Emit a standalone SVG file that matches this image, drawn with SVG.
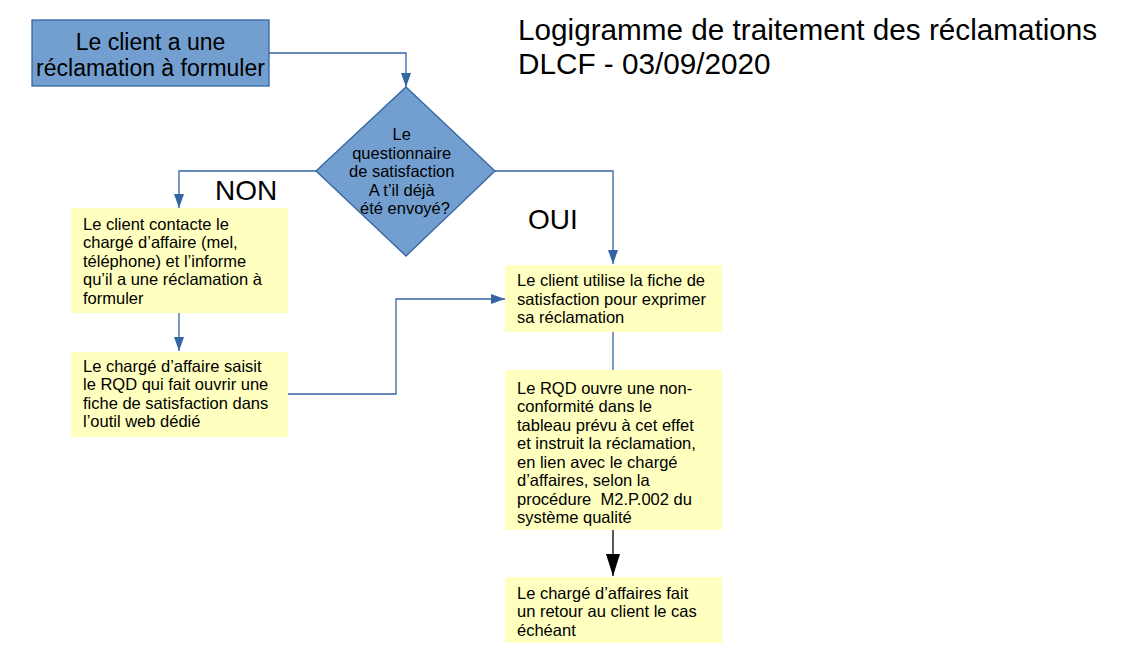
<svg xmlns="http://www.w3.org/2000/svg" width="1124" height="666" viewBox="0 0 1124 666">
<style>
text { font-family: "Liberation Sans", Arial, sans-serif; fill: #000; }
.y { fill: #ffffc0; stroke: none; }
.t { font-size: 16.5px; }
.c { stroke: #3465a4; stroke-width: 1.3; fill: none; }
.big { font-size: 28px; }
.title { font-size: 29.7px; }
</style>
<defs>
<marker id="ab" viewBox="0 0 14 10" refX="14" refY="5" markerWidth="14" markerHeight="10" markerUnits="userSpaceOnUse" orient="auto">
<path d="M0,0 L14,5 L0,10 Z" fill="#3465a4"/>
</marker>
<marker id="ak" viewBox="0 0 22 14" refX="22" refY="7" markerWidth="22" markerHeight="14" markerUnits="userSpaceOnUse" orient="auto">
<path d="M0,0 L22,7 L0,14 Z" fill="#000"/>
</marker>
</defs>
<rect width="1124" height="666" fill="#fff"/>

<g id="title">
<text class="title" x="518" y="40">Logigramme de traitement des réclamations</text>
<text class="title" x="518" y="73.5">DLCF - 03/09/2020</text>
</g>

<g id="connectors">
<path class="c" d="M269,53 H406 V87" marker-end="url(#ab)"/>
<path class="c" d="M316,171 H179 V208" marker-end="url(#ab)"/>
<path class="c" d="M495,171 H613 V264" marker-end="url(#ab)"/>
<path class="c" d="M179,313 V351" marker-end="url(#ab)"/>
<path class="c" d="M288,394 H396 V299 H505" marker-end="url(#ab)"/>
<path class="c" d="M613,332 V370"/>
<path d="M613,530 V576" stroke="#000" stroke-width="1.3" fill="none" marker-end="url(#ak)"/>
</g>

<g id="labels">
<text class="big" x="215" y="200">NON</text>
<text class="big" x="528" y="228.5">OUI</text>
</g>

<g id="start">
<rect x="32" y="20" width="237" height="66" fill="#729fcf" stroke="#3465a4" stroke-width="1.3"/>
<text x="150.5" y="50" font-size="23" text-anchor="middle">Le client a une</text>
<text x="150.5" y="75.5" font-size="23" text-anchor="middle">réclamation à formuler</text>
</g>

<g id="decision">
<path d="M406,87 L495,171 L406,256 L316,171 Z" fill="#729fcf" stroke="#3465a4" stroke-width="1.3"/>
<text class="t" text-anchor="middle">
<tspan x="404" y="140">Le</tspan>
<tspan x="404" y="158.5">questionnaire</tspan>
<tspan x="404" y="177">de satisfaction</tspan>
<tspan x="404" y="195.5">A t’il déjà</tspan>
<tspan x="405" y="214">été envoyé?</tspan>
</text>
</g>

<g id="box1">
<rect class="y" x="71" y="208" width="217" height="105"/>
<text class="t">
<tspan x="83" y="229.5">Le client contacte le</tspan>
<tspan x="83" y="248">chargé d’affaire (mel,</tspan>
<tspan x="83" y="266.5">téléphone) et l’informe</tspan>
<tspan x="83" y="285">qu’il a une réclamation à</tspan>
<tspan x="83" y="303.5">formuler</tspan>
</text>
</g>

<g id="box2">
<rect class="y" x="71" y="352" width="217" height="85"/>
<text class="t">
<tspan x="83" y="371.5">Le chargé d’affaire saisit</tspan>
<tspan x="83" y="390">le RQD qui fait ouvrir une</tspan>
<tspan x="83" y="408.5">fiche de satisfaction dans</tspan>
<tspan x="83" y="427">l’outil web dédié</tspan>
</text>
</g>

<g id="box3">
<rect class="y" x="505" y="265" width="217" height="67"/>
<text class="t">
<tspan x="517" y="286">Le client utilise la fiche de</tspan>
<tspan x="517" y="304.5">satisfaction pour exprimer</tspan>
<tspan x="517" y="323">sa réclamation</tspan>
</text>
</g>

<g id="box4">
<rect class="y" x="505" y="370" width="217" height="160"/>
<text class="t">
<tspan x="517" y="393.5">Le RQD ouvre une non-</tspan>
<tspan x="517" y="412">conformité dans le</tspan>
<tspan x="517" y="430.5">tableau prévu à cet effet</tspan>
<tspan x="517" y="449">et instruit la réclamation,</tspan>
<tspan x="517" y="467.5">en lien avec le chargé</tspan>
<tspan x="517" y="486">d’affaires, selon la</tspan>
<tspan x="517" y="504.5">procédure &#160;M2.P.002 du</tspan>
<tspan x="517" y="523">système qualité</tspan>
</text>
</g>

<g id="box5">
<rect class="y" x="505" y="577" width="217" height="66"/>
<text class="t">
<tspan x="517" y="598.5">Le chargé d’affaires fait</tspan>
<tspan x="517" y="617">un retour au client le cas</tspan>
<tspan x="517" y="635.5">échéant</tspan>
</text>
</g>
</svg>
